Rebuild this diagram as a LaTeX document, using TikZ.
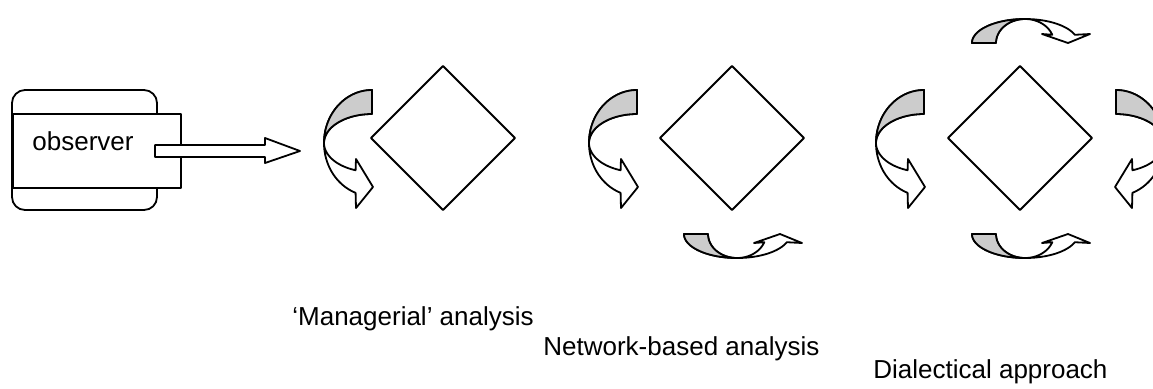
\documentclass[tikz,border=0pt]{standalone}
\usepackage{fontspec}
\setmainfont{Liberation Sans}
\usetikzlibrary{shapes.geometric}
\definecolor{shadegray}{RGB}{204,204,204}
\tikzset{
  lw/.style={line width=0.9pt, line join=round},
  curlbody/.style={lw, draw=black, fill=white},
  curlback/.style={lw, draw=black, fill=shadegray},
  diamondbox/.style={diamond, draw=black, lw, minimum size=72pt, inner sep=0pt, outer sep=0pt, fill=white},
  lbl/.style={inner sep=0pt, font=\fontsize{13}{15}\selectfont},
  curlL/.pic={
    \path[curlbody] (0,-53) -- plot[domain=270:110,samples=60] ({48*cos(\x)},{53*sin(\x)})
      -- (-16,65) -- (1,44) -- (-16,16)
      -- plot[domain=110:270,samples=60] ({48*cos(\x)},{29*sin(\x)}) -- cycle;
    \path[curlback] (0,-53) -- plot[domain=270:180,samples=40] ({48*cos(\x)},{53*sin(\x)})
      -- plot[domain=180:270,samples=40] ({48*cos(\x)},{29*sin(\x)}) -- cycle;
  },
  curlU/.pic={
    \path[curlbody] (-53,0) -- plot[domain=180:20,samples=60] ({53*cos(\x)},{24*sin(\x)})
      -- (65,9) -- (43,0) -- (17,9)
      -- plot[domain=20:180,samples=60] ({29*cos(\x)},{24*sin(\x)}) -- cycle;
    \path[curlback] (-53,0) -- plot[domain=180:90,samples=40] ({53*cos(\x)},{24*sin(\x)})
      -- plot[domain=90:180,samples=40] ({29*cos(\x)},{24*sin(\x)}) -- cycle;
  }
}
\begin{document}
\begin{tikzpicture}[x=0.5pt,y=-0.5pt]
\clip (0,0) rectangle (1153,388);
\useasboundingbox (0,0) rectangle (1153,388);
% observer box
\draw[lw, rounded corners=6.5pt] (12,90) rectangle (157,210);
\node[draw=black, lw, fill=white, inner sep=0pt, minimum width=84pt, minimum height=37pt, anchor=north west] (obsbox) at (12,113) {};
\node[lbl, anchor=base west] (obs) at (32,150) {observer};
% block arrow
\coordinate (tip) at (300,151);
\draw[lw, fill=white] (155,145) -- (265,145) -- (265,138) -- (tip) -- (265,163) -- (265,157) -- (155,157) -- cycle;
% diamonds
\node[diamondbox] (d1) at (443,138) {};
\node[diamondbox] (d2) at (732,138) {};
\node[diamondbox] (d3) at (1020,138) {};
% curved arrows
\pic at (372,143) {curlL};
\pic at (637,143) {curlL};
\pic at (924,143) {curlL};
\pic[xscale=-1] at (1116,143) {curlL};
\pic at (737,234) {curlU};
\pic at (1025,234) {curlU};
\pic[yscale=-1] at (1025,43) {curlU};
% labels
\node[lbl, anchor=base west] (l1) at (292,325) {‘Managerial’ analysis};
\node[lbl, anchor=base west] (l2) at (543,355) {Network-based analysis};
\node[lbl, anchor=base west] (l3) at (873,378) {Dialectical approach};
\end{tikzpicture}
\end{document}
